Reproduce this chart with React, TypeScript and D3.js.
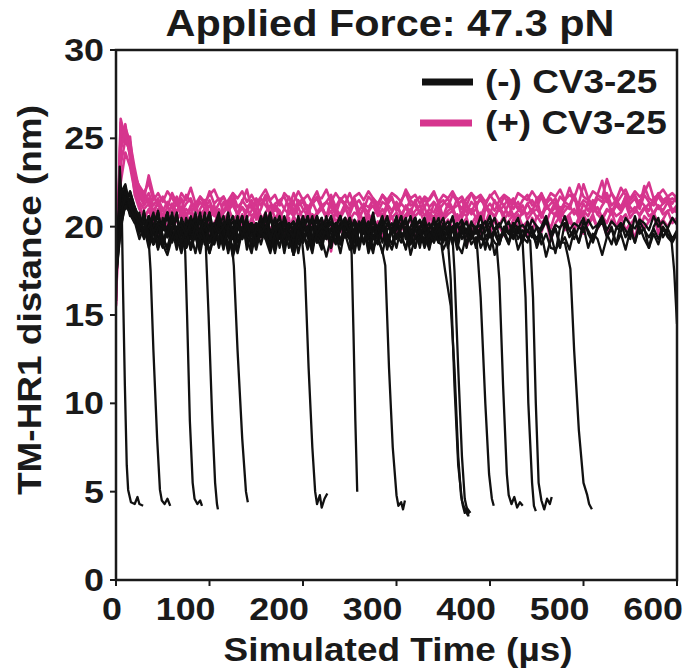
import React from 'react';
import * as d3 from 'd3';

const W = 686;
const H = 671;

const titleText = 'Applied Force: 47.3 pN';
const xLabel = 'Simulated Time (µs)';
const yLabel = 'TM-HR1 distance (nm)';
const legendLabels = ['(-) CV3-25', '(+) CV3-25'];
const xTicks = [0, 100, 200, 300, 400, 500, 600];
const yTicks = [0, 5, 10, 15, 20, 25, 30];

// (+) CV3-25 trajectories, sampled every 5 µs from t = 0
const pinkStep = 5;
const pinkA = [
  16.0, 25.9, 25.2, 24.6, 23.0, 22.2, 21.6, 22.9, 21.8, 21.2,
  21.7, 21.1, 21.9, 21.3, 21.0, 21.8, 21.4, 20.9, 21.7, 21.2,
  22.0, 21.3, 21.6, 20.8, 21.5, 21.9, 21.1, 21.4, 22.1, 21.0,
  21.6, 21.2, 21.8, 21.4, 20.9, 21.5, 21.7, 21.1, 21.9, 21.3,
  21.6, 21.0, 21.5, 22.0, 21.2, 21.4, 21.8, 21.1, 21.6, 21.3,
  21.9, 21.2, 21.5, 21.0, 21.7, 21.4, 21.1, 21.8, 21.3, 21.6,
  21.0, 21.5, 21.9, 21.2, 21.4, 21.7, 21.1, 21.6, 22.0, 21.3,
  21.5, 21.1, 21.8, 21.4, 21.0, 21.6, 21.9, 21.3, 21.5, 21.2,
  21.8, 21.4, 21.1, 21.7, 21.3, 21.6, 21.0, 21.5, 21.8, 21.2,
  21.4, 21.9, 21.3, 21.6, 21.1, 21.7, 21.4, 22.2, 21.5, 21.3,
  22.4, 21.6, 21.2, 21.8, 22.6, 21.4, 21.9, 21.3, 21.7, 22.1,
  21.5, 21.8, 21.2, 22.3, 21.6, 21.4, 21.9, 21.5, 21.7, 21.3,
  21.8,
];
const pinkB = [
  15.5, 24.8, 25.8, 23.9, 22.6, 21.8, 21.2, 21.6, 20.9, 21.3,
  20.6, 21.1, 20.8, 21.4, 20.5, 21.0, 20.7, 21.3, 20.4, 20.9,
  21.2, 20.6, 21.0, 20.3, 20.8, 21.4, 20.7, 21.1, 20.5, 20.9,
  21.3, 20.6, 20.2, 20.8, 21.2, 20.5, 21.0, 20.7, 21.4, 20.6,
  20.9, 21.2, 20.4, 20.8, 21.1, 20.6, 21.3, 20.9, 20.5, 21.0,
  20.7, 21.4, 20.8, 20.3, 20.9, 21.2, 20.6, 21.0, 20.4, 20.8,
  21.3, 20.7, 21.1, 20.5, 20.9, 21.2, 20.6, 21.0, 20.8, 21.4,
  20.5, 20.9, 21.1, 20.4, 20.8, 21.3, 20.7, 21.0, 20.6, 21.2,
  20.9, 20.5, 21.1, 20.7, 21.3, 20.6, 20.9, 21.2, 20.4, 20.8,
  21.0, 20.6, 21.3, 20.8, 21.1, 20.5, 20.9, 21.2, 20.7, 21.0,
  20.6, 21.4, 20.8, 21.1, 20.5, 21.0, 20.7, 21.2, 20.9, 21.5,
  20.8, 21.1, 20.6, 21.0, 21.3, 20.7, 21.2, 20.9, 21.4, 20.8,
  21.0,
];
const pinkC = [
  16.8, 23.5, 24.9, 24.3, 21.8, 21.0, 20.6, 20.9, 20.3, 20.7,
  20.1, 20.5, 19.8, 20.4, 20.8, 20.2, 19.9, 20.6, 20.3, 19.7,
  20.5, 20.9, 20.2, 20.6, 19.9, 20.4, 20.1, 20.7, 19.6, 20.3,
  20.8, 20.0, 20.5, 19.8, 20.4, 20.9, 20.2, 19.7, 20.6, 20.1,
  20.4, 19.9, 20.7, 20.3, 19.6, 20.5, 20.0, 20.8, 20.2, 19.8,
  20.6, 20.1, 20.4, 19.9, 20.7, 20.3, 19.5, 20.2, 20.6, 20.0,
  20.4, 19.8, 20.5, 20.9, 20.1, 20.3, 19.7, 20.6, 20.2, 20.8,
  20.0, 20.4, 19.9, 20.7, 20.1, 20.5, 19.6, 20.3, 20.8, 20.2,
  19.9, 20.5, 20.1, 20.6, 19.8, 20.4, 20.7, 20.0, 20.3, 19.7,
  20.6, 20.2, 20.5, 19.9, 20.8, 20.3, 20.0, 20.6, 19.8, 20.4,
  20.7, 20.1, 20.5, 19.9, 20.6, 20.2, 20.9, 20.0, 20.4, 20.7,
  20.1, 20.5, 19.8, 20.6, 20.3, 20.8, 20.1, 20.4, 20.9, 20.2,
  20.5,
];
const pinkD = [
  15.8, 25.5, 24.7, 25.1, 22.4, 21.5, 22.0, 21.3, 20.7, 21.5,
  21.0, 20.4, 21.3, 20.8, 21.6, 20.5, 21.2, 19.4, 21.0, 21.5,
  20.7, 21.2, 20.3, 21.4, 20.9, 21.6, 20.6, 21.1, 20.8, 21.5,
  20.4, 21.0, 21.7, 20.6, 21.2, 20.9, 19.2, 21.3, 20.7, 21.5,
  21.0, 20.6, 21.4, 20.8, 21.2, 20.5, 21.6, 21.0, 20.7, 21.3,
  20.9, 21.5, 20.4, 21.1, 20.8, 21.6, 21.0, 20.6, 21.3, 20.9,
  21.4, 20.5, 21.2, 20.8, 21.5, 20.7, 21.1, 20.3, 21.4, 21.0,
  20.6, 21.3, 20.9, 21.6, 20.5, 21.2, 20.8, 21.4, 19.3, 21.1,
  20.7, 21.5, 20.9, 21.2, 20.6, 21.4, 21.0, 20.7, 21.3, 20.8,
  21.6, 20.5, 21.1, 20.9, 21.4, 20.7, 21.2, 21.0, 21.8, 20.6,
  21.3, 20.9, 21.5, 20.7, 21.2, 21.6, 20.8, 21.4, 21.0, 21.7,
  21.1, 20.8, 21.5, 21.2, 20.9, 21.6, 21.0, 21.3, 21.7, 20.9,
  21.2,
];
const pinkE = [
  17.2, 22.5, 24.2, 23.4, 22.0, 21.3, 20.4, 21.0, 20.2, 19.6,
  20.5, 20.0, 20.7, 19.5, 20.3, 20.8, 19.9, 20.4, 19.7, 20.6,
  19.2, 20.2, 20.7, 19.8, 20.4, 19.5, 20.6, 20.1, 19.7, 20.5,
  20.0, 19.4, 20.3, 20.8, 19.9, 20.2, 19.6, 20.5, 18.7, 20.1,
  20.6, 19.8, 20.3, 19.5, 20.4, 20.0, 18.6, 20.2, 19.7, 20.5,
  20.1, 19.6, 20.4, 19.9, 20.7, 19.8, 20.3, 19.4, 20.1, 20.6,
  19.7, 20.2, 19.9, 20.5, 19.3, 20.0, 20.4, 19.8, 20.6, 19.5,
  20.3, 19.9, 20.5, 19.7, 20.2, 18.9, 20.1, 20.6, 19.8, 20.3,
  19.6, 20.4, 20.0, 19.5, 20.3, 20.7, 19.9, 20.1, 19.4, 20.5,
  20.0, 19.7, 20.4, 19.2, 20.2, 20.6, 19.8, 20.3, 19.9, 20.5,
  19.6, 20.2, 20.7, 19.9, 20.3, 19.5, 20.4, 20.0, 20.6, 19.8,
  20.2, 19.3, 20.5, 19.9, 20.3, 20.7, 19.6, 20.4, 20.0, 20.5,
  20.2,
];
const pinkF = [
  16.4, 26.1, 25.0, 24.2, 22.8, 22.3, 21.9, 22.5, 21.5, 21.9,
  21.4, 22.0, 21.6, 21.2, 21.9, 21.5, 22.2, 21.3, 21.7, 21.4,
  21.8, 22.1, 21.5, 21.7, 21.2, 21.9, 21.6, 22.0, 21.4, 21.8,
  21.3, 21.7, 22.1, 21.5, 21.8, 21.2, 21.9, 21.6, 21.4, 22.0,
  21.5, 21.8, 21.3, 21.7, 21.6, 22.1, 21.4, 21.9, 21.5, 21.8,
  21.2, 21.7, 21.9, 21.5, 22.0, 21.6, 21.3, 21.8, 21.5, 21.9,
  21.7, 21.4, 22.1, 21.6, 21.8, 21.3, 21.7, 21.5, 21.9, 21.4,
  21.8, 21.6, 22.0, 21.5, 21.7, 21.2, 21.9, 21.6, 21.8, 21.4,
  21.7, 22.0, 21.5, 21.8, 21.6, 21.3, 21.9, 21.7, 21.5, 22.0,
  21.6, 21.8, 21.4, 21.9, 21.7, 22.1, 21.5, 21.8, 21.6, 22.4,
  21.7, 21.5, 22.0, 21.8, 21.6, 22.7, 21.9, 21.5, 22.2, 21.8,
  21.6, 22.0, 21.7, 21.9, 22.5, 21.6, 21.8, 22.1, 21.7, 21.9,
  21.6,
];
const pinkG = [
  15.6, 24.3, 25.4, 24.0, 22.2, 21.4, 21.0, 21.3, 20.5, 21.0,
  20.4, 20.8, 21.2, 20.3, 20.9, 20.6, 21.1, 20.2, 20.7, 21.0,
  20.5, 20.9, 20.1, 20.8, 21.1, 20.4, 20.7, 20.2, 21.0, 20.6,
  20.9, 20.3, 20.8, 21.2, 20.5, 20.7, 20.1, 20.9, 20.6, 21.1,
  20.4, 20.8, 20.2, 20.7, 21.0, 20.5, 20.9, 20.3, 20.6, 21.1,
  20.4, 20.8, 20.6, 21.0, 20.2, 20.7, 20.9, 20.4, 21.1, 20.5,
  20.8, 20.3, 20.7, 21.0, 20.6, 20.9, 20.2, 20.8, 20.5, 21.1,
  20.4, 20.7, 20.9, 20.3, 20.8, 20.6, 21.0, 20.5, 20.7, 20.2,
  20.9, 20.6, 21.1, 20.4, 20.8, 20.5, 20.3, 20.9, 20.7, 21.0,
  20.5, 20.8, 20.2, 20.9, 20.6, 21.1, 20.4, 20.7, 21.0, 20.5,
  20.9, 20.6, 21.2, 20.7, 20.4, 20.9, 21.0, 20.6, 20.8, 21.3,
  20.5, 20.9, 20.7, 21.1, 20.6, 20.8, 21.2, 20.7, 20.9, 21.0,
  20.8,
];
const pinkH = [
  17.0, 25.2, 25.6, 24.8, 23.3, 22.0, 21.4, 21.9, 21.2, 21.6,
  20.9, 21.4, 21.1, 21.7, 20.8, 21.3, 21.6, 20.9, 21.4, 21.0,
  21.5, 20.8, 21.3, 21.7, 21.0, 21.2, 20.7, 21.5, 21.1, 21.4,
  20.9, 21.6, 21.2, 20.8, 21.3, 21.5, 21.0, 21.7, 20.9, 21.2,
  21.4, 20.8, 21.3, 21.6, 21.0, 21.4, 21.1, 20.7, 21.5, 21.2,
  21.0, 21.6, 20.9, 21.3, 21.1, 21.5, 20.8, 21.4, 21.2, 21.7,
  20.9, 21.3, 21.0, 21.5, 21.2, 20.8, 21.6, 21.1, 21.4, 20.9,
  21.3, 21.6, 21.0, 21.2, 21.5, 20.8, 21.4, 21.1, 21.7, 21.0,
  21.3, 20.9, 21.5, 21.2, 21.6, 21.0, 21.4, 20.8, 21.3, 21.5,
  21.1, 21.7, 21.0, 21.3, 21.6, 20.9, 21.4, 21.2, 21.8, 21.1,
  21.5, 21.3, 21.0, 21.6, 21.4, 21.9, 21.2, 21.5, 21.1, 21.7,
  21.3, 21.6, 21.0, 21.8, 21.4, 21.2, 21.7, 21.3, 21.5, 21.6,
  21.4,
];
const pinkSeries = [pinkA, pinkB, pinkC, pinkD, pinkE, pinkF, pinkG, pinkH];

// (-) CV3-25 trajectories: plateau sampled every 5 µs from t = 0, then the collapse as [t, value]
const blackStep = 5;
const blackPlateaus = [
  [15.8],
  [17.6, 20.4, 21.8, 21.0, 20.9, 20.0, 20.6],
  [18.2, 21.5, 21.1, 22.0, 21.1, 20.3, 19.4, 20.6, 19.9, 19.0, 20.2, 19.6, 20.5, 19.3, 19.9],
  [17.9, 20.8, 22.0, 21.2, 20.8, 19.8, 20.5, 19.1, 20.0, 20.8, 19.4, 18.7, 19.9, 20.6, 19.6, 18.8, 20.2, 19.8, 19.1, 19.6],
  [18.4, 22.2, 21.0, 21.4, 20.6, 20.2, 19.3, 20.3, 19.8, 18.7, 20.0, 20.8, 19.4, 19.9, 19.0, 20.5, 19.6, 18.5, 19.9, 20.6, 19.3, 20.0, 18.8, 19.8, 19.1],
  [17.2, 21.3, 21.7, 20.8, 20.5, 19.6, 20.6, 19.3, 20.0, 20.9,
   19.0, 19.9, 20.3, 19.4, 18.5, 19.8, 20.6, 19.6, 18.8, 20.2,
   19.3, 20.0, 20.8, 19.1, 19.8, 18.4, 20.0, 20.5, 19.4, 19.9,
   19.0, 20.3, 19.6, 18.7, 20.0, 20.6, 19.3, 19.8, 18.8, 19.4],
  [18.0, 20.9, 21.9, 20.7, 20.2, 20.8, 19.4, 20.0, 19.0, 20.3,
   19.8, 20.6, 19.1, 19.9, 20.2, 18.8, 19.6, 20.8, 19.4, 20.0,
   18.5, 19.8, 20.5, 19.3, 19.9, 20.3, 19.1, 19.6, 20.6, 18.7,
   19.9, 19.4, 20.5, 19.8, 19.0, 20.0, 20.2, 19.3, 18.4, 19.8,
   20.6, 19.6, 18.8, 20.0, 20.5, 19.4, 19.9, 19.1, 20.2, 19.6,
   19.3],
  [17.1, 19.8, 21.4, 21.0, 21.1, 20.3, 19.4, 20.5, 19.9, 18.8,
   20.0, 20.8, 19.6, 19.1, 20.2, 19.8, 18.7, 19.9, 20.6, 19.3,
   20.0, 19.0, 20.3, 19.6, 20.8, 19.4, 18.5, 19.8, 20.2, 19.1,
   19.9, 20.5, 19.6, 18.8, 20.0, 19.3, 20.6, 19.8, 19.0, 19.9,
   20.3, 19.4, 18.5, 20.0, 20.5, 19.3, 19.8, 20.2, 19.1, 19.9,
   19.6, 20.3, 19.0, 20.0, 19.4, 18.8, 19.3],
  [17.7, 21.0, 22.3, 20.9, 20.5, 19.9, 20.9, 19.3, 20.0, 18.8,
   20.5, 19.6, 20.0, 20.6, 19.0, 19.8, 20.2, 19.4, 18.5, 19.9,
   20.8, 19.6, 19.1, 20.0, 20.3, 19.3, 19.8, 20.5, 18.7, 19.9,
   19.4, 20.6, 19.8, 19.0, 20.0, 20.2, 19.3, 19.9, 18.4, 19.6,
   20.5, 19.4, 20.0, 19.1, 20.3, 19.8, 18.8, 20.0, 20.6, 19.6,
   19.3, 19.9, 20.2, 19.0, 19.8, 20.8, 19.4, 20.0, 19.1, 19.9,
   20.3, 19.6, 18.7, 20.0, 20.5, 19.3, 19.8, 19.0, 19.6, 19.1],
  [18.6, 21.6, 21.1, 21.5, 20.8, 20.0, 20.3, 19.4, 20.6, 19.8,
   19.0, 20.0, 20.5, 19.3, 19.9, 20.2, 18.8, 19.6, 20.6, 19.4,
   20.0, 19.1, 20.3, 19.9, 18.5, 19.8, 20.5, 19.6, 19.3, 20.2,
   19.9, 19.0, 20.0, 20.8, 19.4, 19.8, 18.8, 20.2, 19.6, 20.5,
   19.1, 19.9, 20.3, 19.4, 18.7, 20.0, 20.6, 19.6, 19.3, 19.9,
   20.2, 19.1, 19.8, 20.5, 19.4, 18.5, 20.0, 20.3, 19.6, 19.0,
   19.9, 20.6, 19.3, 19.8, 20.0, 18.8, 20.2, 19.4, 19.9, 19.3,
   19.6],
  [17.4, 20.5, 21.3, 21.9, 21.0, 20.2, 19.6, 20.6, 19.0, 20.0,
   20.3, 19.4, 19.9, 18.7, 20.5, 19.8, 19.3, 20.2, 19.6, 20.8,
   19.1, 19.9, 20.0, 18.8, 20.3, 19.4, 19.8, 20.6, 19.3, 18.5,
   19.9, 20.2, 19.6, 19.0, 20.0, 20.5, 19.4, 19.9, 19.1, 20.3,
   19.8, 18.7, 20.0, 20.6, 19.6, 19.3, 19.9, 20.2, 19.0, 19.8,
   20.5, 19.4, 20.0, 19.1, 19.9, 20.3, 19.6, 18.5, 19.8, 20.2,
   19.3, 20.0, 20.5, 19.4, 18.8, 19.9, 20.2, 19.6, 19.1, 20.0,
   19.4, 19.8],
  [18.8, 21.2, 21.7, 20.6, 20.6, 19.8, 20.3, 19.3, 20.0, 20.8,
   19.4, 18.8, 19.9, 20.5, 19.6, 19.1, 20.2, 19.8, 20.6, 19.0,
   20.0, 19.4, 20.3, 19.9, 18.7, 19.6, 20.5, 19.3, 20.0, 20.2,
   19.1, 19.9, 20.8, 19.6, 18.8, 20.0, 20.3, 19.4, 19.8, 18.5,
   19.9, 20.5, 19.3, 20.0, 19.6, 20.6, 19.0, 19.8, 20.2, 19.4,
   20.0, 19.1, 20.3, 19.6, 19.9, 18.7, 20.0, 20.5, 19.3, 19.8,
   20.2, 19.4, 19.9, 19.0, 20.3, 19.6, 20.0, 19.1, 20.5, 19.4,
   19.9, 18.8, 20.0, 20.2, 19.3, 19.8, 19.0, 19.4],
  [17.0, 20.2, 21.5, 21.2, 20.8, 20.2, 19.4, 20.5, 19.9, 19.0,
   20.2, 19.6, 20.6, 19.3, 20.0, 18.8, 19.8, 20.3, 19.4, 19.9,
   20.8, 19.1, 20.0, 19.6, 20.2, 18.5, 19.9, 20.5, 19.4, 19.8,
   19.0, 20.2, 19.6, 20.6, 19.3, 19.9, 18.8, 20.0, 20.3, 19.4,
   19.8, 20.5, 19.1, 19.9, 19.6, 20.2, 19.0, 20.0, 20.6, 19.4,
   19.8, 18.7, 19.9, 20.3, 19.3, 20.0, 19.6, 20.5, 19.1, 19.9,
   20.2, 19.4, 18.8, 20.0, 20.5, 19.6, 19.3, 19.9, 20.3, 19.1,
   19.8, 20.0, 19.0, 20.2, 19.6, 19.9, 19.3, 20.0, 19.4, 19.0,
   19.6, 19.1],
  [18.3, 21.8, 22.1, 20.8, 20.9, 20.0, 20.6, 19.6, 19.0, 20.2,
   19.8, 20.8, 19.4, 19.9, 18.8, 20.0, 20.5, 19.3, 19.8, 20.2,
   19.1, 19.9, 20.6, 19.6, 18.7, 20.0, 20.3, 19.4, 19.9, 19.0,
   20.2, 19.8, 19.3, 20.5, 19.6, 20.0, 18.5, 19.9, 20.3, 19.4,
   19.8, 20.6, 19.3, 20.0, 19.0, 19.9, 20.2, 19.6, 19.1, 20.3,
   19.8, 19.4, 20.0, 20.5, 18.8, 19.9, 19.6, 20.2, 19.3, 19.8,
   20.6, 19.4, 19.9, 19.0, 20.0, 20.3, 19.6, 18.7, 19.9, 20.5,
   19.3, 19.8, 20.0, 19.1, 20.2, 19.6, 19.9, 18.8, 20.0, 20.3,
   19.4, 19.8, 19.1, 19.9, 19.6, 19.3, 19.8],
  [17.5, 20.7, 21.2, 22.0, 21.1, 20.5, 19.8, 20.0, 20.8, 19.4,
   18.8, 19.9, 20.3, 19.6, 20.0, 19.1, 20.5, 19.8, 19.3, 20.2,
   19.9, 19.0, 20.0, 20.6, 19.4, 19.8, 18.7, 19.9, 20.3, 19.6,
   19.1, 20.2, 19.9, 19.3, 20.5, 19.6, 18.8, 20.0, 20.2, 19.4,
   19.9, 20.6, 19.3, 19.8, 19.0, 20.0, 20.3, 19.6, 18.5, 19.9,
   20.5, 19.4, 20.0, 19.1, 20.2, 19.8, 19.3, 19.9, 20.6, 19.6,
   18.8, 20.0, 20.2, 19.4, 19.9, 19.0, 20.3, 19.8, 19.3, 20.0,
   20.5, 19.4, 19.9, 18.7, 20.0, 20.2, 19.6, 19.1, 19.9, 20.3,
   19.4, 19.8, 19.0, 20.0, 19.6, 20.2, 19.3, 19.8, 19.4],
  [18.1, 21.4, 21.0, 21.6, 20.6, 19.9, 20.5, 19.4, 20.0, 19.0,
   20.3, 19.8, 20.8, 19.3, 19.9, 18.8, 20.0, 20.5, 19.6, 19.1,
   20.2, 19.9, 19.3, 20.3, 19.6, 18.5, 19.9, 20.6, 19.4, 20.0,
   19.0, 20.2, 19.8, 19.3, 20.5, 19.6, 19.9, 18.8, 20.0, 20.3,
   19.4, 19.8, 20.6, 19.1, 19.9, 20.2, 19.6, 19.0, 20.0, 20.5,
   19.3, 19.8, 18.7, 19.9, 20.3, 19.4, 20.0, 19.1, 20.2, 19.6,
   19.9, 20.6, 19.3, 19.8, 18.8, 20.0, 20.5, 19.4, 19.9, 19.1,
   20.2, 19.6, 20.0, 19.0, 19.9, 20.3, 19.3, 19.8, 20.6, 19.4,
   18.7, 19.9, 20.2, 19.6, 19.1, 20.0, 20.5, 19.3, 19.8, 19.4,
   20.0, 19.0, 19.6, 18.8, 18.7, 19.1],
  [17.8, 21.1, 22.0, 20.9, 20.8, 19.8, 20.3, 19.3, 20.0, 20.6,
   19.4, 18.7, 19.9, 20.5, 19.6, 19.1, 20.2, 19.8, 20.8, 19.0,
   20.0, 19.4, 20.3, 19.9, 18.8, 19.6, 20.6, 19.3, 20.0, 20.2,
   19.1, 19.9, 20.5, 19.6, 18.5, 19.8, 20.3, 19.4, 20.0, 19.0,
   20.2, 19.8, 19.3, 20.6, 19.6, 19.9, 18.8, 20.0, 20.5, 19.4,
   19.8, 20.2, 19.1, 19.9, 19.6, 20.5, 19.3, 20.0, 18.7, 19.9,
   20.3, 19.4, 19.8, 20.6, 19.3, 20.0, 19.0, 19.9, 20.2, 19.6,
   19.1, 20.0, 20.5, 19.4, 19.9, 18.8, 20.2, 19.8, 19.3, 20.0,
   20.6, 19.6, 19.0, 19.9, 20.3, 19.4, 20.0, 19.1, 20.2, 19.8,
   19.3, 19.9, 20.5, 19.6, 18.5, 20.0, 20.2, 19.4, 19.9, 19.1,
   20.3, 19.8, 19.3, 20.0, 20.5, 19.6, 19.0, 19.9, 20.2, 19.4,
   20.0, 19.1, 20.3, 19.8, 19.4, 19.9, 19.3, 20.0, 19.6],
  [18.5, 20.6, 21.7, 21.3, 20.5, 20.2, 19.6, 20.6, 19.0, 20.0,
   20.3, 19.4, 19.9, 20.8, 19.1, 19.8, 18.8, 20.2, 19.6, 20.0,
   20.5, 19.3, 19.9, 18.7, 20.0, 20.6, 19.4, 19.8, 20.3, 19.1,
   19.9, 19.6, 20.5, 19.3, 20.0, 18.8, 20.2, 19.8, 19.4, 20.6,
   19.6, 19.0, 20.0, 20.3, 19.3, 19.9, 20.2, 19.1, 19.8, 20.5,
   19.4, 18.5, 19.9, 20.3, 19.6, 19.3, 20.0, 20.6, 19.0, 19.9,
   19.4, 20.2, 19.8, 19.1, 20.5, 19.6, 20.0, 18.8, 19.9, 20.2,
   19.3, 19.8, 20.6, 19.4, 20.0, 19.0, 20.3, 19.6, 19.9, 18.7,
   20.0, 20.5, 19.4, 19.8, 19.1, 20.2, 19.9, 19.3, 20.3, 19.6,
   19.0, 20.0, 20.6, 19.4, 19.9, 18.8, 20.2, 19.8, 19.3, 20.0,
   20.5, 19.6, 19.1, 19.9, 20.3, 19.4, 20.0, 19.0, 20.2, 19.8,
   19.3, 20.6, 19.6, 19.9, 18.8, 20.0, 20.5, 19.4, 19.9, 19.3,
   19.8],
  [17.3, 20.0, 21.2, 20.8, 20.3, 19.3, 20.0, 18.8, 19.6, 20.2,
   19.0, 18.4, 19.4, 20.0, 19.1, 19.8, 18.7, 19.6, 20.3, 19.3,
   18.5, 19.4, 19.9, 19.0, 19.8, 18.3, 19.3, 20.0, 19.1, 19.6,
   18.7, 19.9, 19.3, 18.5, 19.6, 20.2, 19.0, 19.4, 18.4, 19.8,
   19.1, 20.0, 18.8, 19.6, 19.3, 18.3, 19.4, 19.9, 19.0, 19.6,
   18.7, 19.8, 19.1, 20.0, 18.5, 19.4, 19.0, 19.9, 19.3, 18.7,
   19.6, 19.1, 20.0, 18.4, 19.4, 19.8, 18.8, 19.6, 19.1, 20.0,
   18.7, 19.3, 19.9, 19.0, 18.5, 19.6, 19.3, 20.0, 18.8, 19.4,
   19.8, 18.4, 19.3, 19.6, 19.0, 19.9, 18.7, 19.4, 19.1, 20.0,
   18.8, 19.6, 18.3, 19.3, 19.9, 19.0, 19.4, 18.7, 19.8, 19.1,
   20.0, 18.8, 19.6, 19.3, 18.4, 19.4, 19.9, 19.0, 19.6, 18.7,
   19.8, 19.1, 20.0, 19.3, 18.8, 19.6, 19.0, 19.9, 19.4, 19.1,
   19.6],
  [18.9, 21.9, 22.4, 21.1, 20.6, 20.3, 19.9, 20.5, 19.7, 20.2,
   20.0, 19.6, 20.4, 19.9, 20.1, 19.5, 20.3, 20.0, 19.7, 20.5,
   19.8, 20.2, 19.6, 20.0, 20.4, 19.7, 20.1, 19.5, 20.3, 19.9,
   20.2, 19.6, 20.0, 20.5, 19.8, 20.1, 19.4, 20.2, 19.9, 20.3,
   19.7, 20.0, 20.4, 19.6, 20.1, 19.8, 20.3, 19.5, 20.0, 20.2,
   19.7, 20.4, 19.9, 20.1, 19.6, 20.3, 20.0, 19.8, 20.5, 19.7,
   20.1, 19.9, 20.3, 19.6, 20.0, 20.4, 19.8, 20.2, 19.5, 20.1,
   19.9, 20.3, 19.7, 20.0, 20.4, 19.6, 20.2, 19.9, 20.1, 19.7,
   20.3, 19.8, 20.0, 20.5, 19.6, 20.2, 19.9, 20.1, 19.7, 20.4,
   20.0, 19.8, 20.3, 19.6, 20.1, 19.9, 20.6, 19.8, 20.2, 20.0,
   19.7, 20.4, 19.9, 20.1, 20.6, 19.8, 20.3, 20.0, 19.7, 20.5,
   20.1, 19.9, 20.4, 20.2, 19.8, 20.6, 20.0, 20.3, 19.9, 20.5,
   20.1],
];
const blackDrops: [number, number][][] = [
  [[2, 19.5], [4, 23.4], [6, 21.5], [7.5, 16.5], [9.5, 11], [11.5, 6.5], [13, 5.1], [16, 4.4], [20, 4.3], [23, 4.7], [25, 4.3], [29, 4.2]],
  [[35, 19.2], [37, 17.5], [40, 13], [44, 8], [47, 5.1], [49, 4.5], [52, 4.3], [55, 4.6], [58, 4.2]],
  [[74, 18.6], [76, 15], [79, 9], [82, 5.5], [84, 4.6], [87, 4.3], [90, 4.5], [92, 4.2]],
  [[96, 19.0], [99, 15], [103, 9], [106, 5.5], [108, 4.3], [109, 4.0]],
  [[124, 19.0], [126, 17.8], [130, 13], [135, 8], [139, 5.0], [141, 4.4]],
  [[199, 19.2], [202, 17.6], [206, 12], [210, 7.5], [213, 5.0], [215, 4.3], [218, 4.8], [220, 4.1], [223, 4.6], [226, 4.9]],
  [[252, 18.5], [254, 14], [256, 9], [258, 5.0]],
  [[285, 18.6], [288, 17.8], [292, 12], [296, 7.5], [300, 4.8], [302, 4.2], [305, 4.4], [307, 4.0], [309, 4.5]],
  [[348, 19.0], [352, 17.5], [358, 15.5], [362, 12], [366, 7], [369, 4.8], [371, 4.2], [373, 3.8], [375, 4.1], [377, 3.6]],
  [[355, 19.2], [358, 17], [362, 11], [366, 6.5], [370, 4.5], [373, 4.0], [376, 3.7], [378, 3.9]],
  [[360, 19.3], [362, 17.5], [366, 12], [370, 7], [373, 4.6], [375, 4.1], [379, 3.8]],
  [[386, 19.0], [390, 16], [395, 10], [399, 6], [402, 4.6], [404, 4.2]],
  [[407, 19.0], [410, 17], [414, 11], [418, 6], [420, 4.8], [423, 4.3], [426, 4.7], [429, 4.1], [432, 4.4], [435, 4.2]],
  [[435, 19.0], [438, 16], [441, 10], [445, 5.5], [447, 4.2], [449, 3.9]],
  [[443, 19.2], [446, 16], [449, 10], [452, 5.5], [455, 4.5], [458, 4.0], [461, 4.6], [464, 4.3], [466, 4.7]],
  [[480, 19.1], [483, 18.4], [486, 17.6], [490, 13], [495, 8.5], [500, 5.5], [504, 4.8], [506, 4.3], [509, 4.0]],
  [[594, 19.3], [597, 17.5], [600, 14.5]],
  [],
  [],
  [],
];

const BLACK = '#111111';
const PINK = '#d6358e';
const INK = '#1a1a1a';
const FONT = '"Liberation Sans", Arial, Helvetica, sans-serif';
const SX = 1.12;

const margin = { left: 116, right: 677, top: 50, bottom: 580 };

export default function App() {
  const x = d3.scaleLinear().domain([0, 600]).range([margin.left, margin.right]);
  const y = d3.scaleLinear().domain([0, 30]).range([margin.bottom, margin.top]);
  const line = d3
    .line<[number, number]>()
    .x((d) => x(d[0]))
    .y((d) => y(d[1]));

  const pinkPaths = pinkSeries.map((s) =>
    line(s.map((v, i) => [i * pinkStep, v] as [number, number]))
  );

  const blackPaths = blackPlateaus.map((plateau, k) => {
    const drop = blackDrops[k] || [];
    const limit = drop.length ? drop[0][0] : Infinity;
    const pts = plateau
      .map((v, i) => [i * blackStep, v] as [number, number])
      .filter((p) => p[0] < limit && p[0] <= 600);
    return line(pts.concat(drop));
  });

  const txt = (
    s: string,
    px: number,
    py: number,
    size: number,
    anchor: string,
    rotate = 0
  ) => (
    <text
      transform={`translate(${px},${py}) rotate(${rotate}) scale(${SX},1)`}
      textAnchor={anchor as any}
      fontFamily={FONT}
      fontWeight="bold"
      fontSize={size}
      fill={INK}
    >
      {s}
    </text>
  );

  return (
    <svg
      width={W}
      height={H}
      viewBox={`0 0 ${W} ${H}`}
      style={{ position: 'absolute', left: 0, top: 0, background: '#fff' }}
    >
      <defs>
        <clipPath id="plotClip">
          <rect
            x={margin.left}
            y={margin.top}
            width={margin.right - margin.left}
            height={margin.bottom - margin.top}
          />
        </clipPath>
      </defs>
      <rect x={0} y={0} width={W} height={H} fill="#fff" />

      <g clipPath="url(#plotClip)">
        {pinkPaths.map((d, i) => (
          <path key={'p' + i} d={d || ''} fill="none" stroke={PINK} strokeWidth={2.6} strokeLinejoin="round" />
        ))}
        {blackPaths.map((d, i) => (
          <path key={'b' + i} d={d || ''} fill="none" stroke={BLACK} strokeWidth={2.3} strokeLinejoin="round" />
        ))}
      </g>

      <rect
        x={margin.left}
        y={margin.top}
        width={margin.right - margin.left}
        height={margin.bottom - margin.top}
        fill="none"
        stroke={INK}
        strokeWidth={2.5}
      />

      {yTicks.map((t) => (
        <g key={'yt' + t}>
          <line x1={margin.left - 6} x2={margin.left} y1={y(t)} y2={y(t)} stroke={INK} strokeWidth={2} />
          {txt(String(t), margin.left - 12, y(t) + 11, 32, 'end')}
        </g>
      ))}
      {xTicks.map((t) => (
        <g key={'xt' + t}>
          <line x1={x(t)} x2={x(t)} y1={margin.bottom} y2={margin.bottom + 6} stroke={INK} strokeWidth={2} />
          {txt(String(t), x(t) + 6, margin.bottom + 40, 32, 'end')}
        </g>
      ))}

      {txt(titleText, 390, 36, 37, 'middle')}
      {txt(xLabel, 398, 661, 33, 'middle')}
      {txt(yLabel, 41, 300, 33, 'middle', -90)}

      <line x1={422} x2={473} y1={82} y2={82} stroke={BLACK} strokeWidth={7} />
      {txt(legendLabels[0], 485, 93, 33, 'start')}
      <line x1={420} x2={472} y1={123} y2={123} stroke={PINK} strokeWidth={7} />
      {txt(legendLabels[1], 485, 134, 33, 'start')}
    </svg>
  );
}
